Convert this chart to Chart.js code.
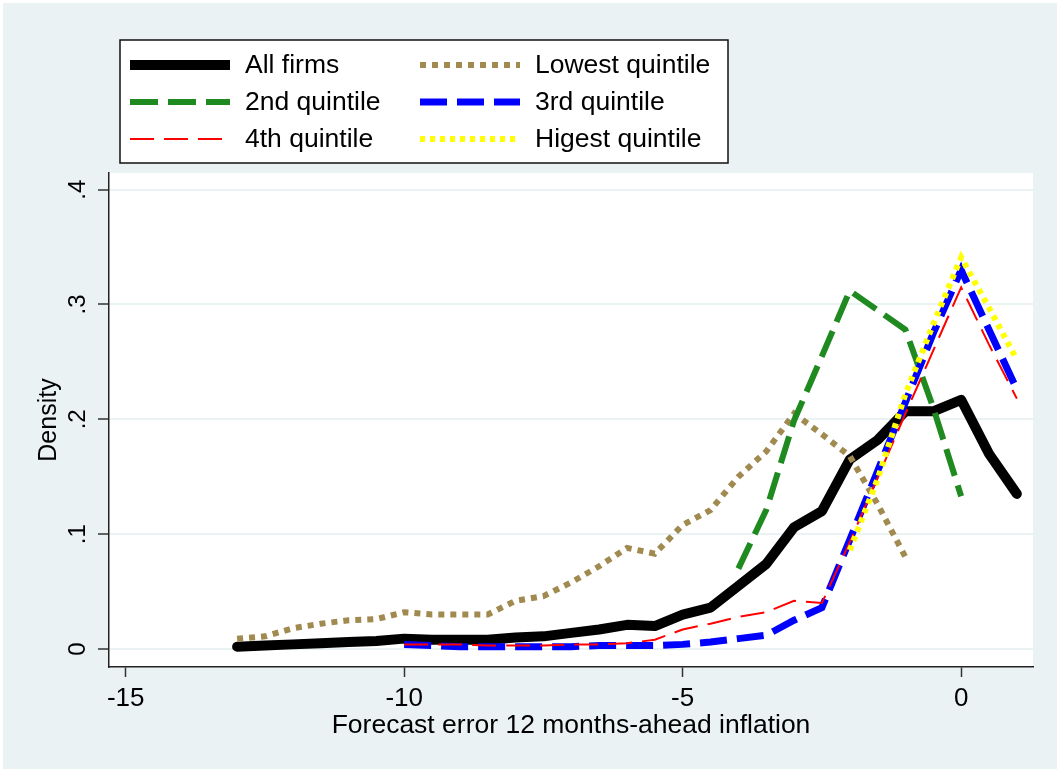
<!DOCTYPE html>
<html lang="en">
<head>
<meta charset="UTF-8">
<title>Forecast error density by quintile</title>
<script src="https://cdn.jsdelivr.net/npm/chart.js"></script>
<style>
  html, body { margin: 0; padding: 0; background: #ffffff; }
</style>
</head>
<body>
<canvas id="densityChart" width="1060" height="772"></canvas>
<script>
// forecast error bins (x values shared by every series)
const bins = [-13, -12.5, -12, -11.5, -11, -10.5, -10, -9.5, -9, -8.5, -8, -7.5, -7, -6.5, -6,
              -5.5, -5, -4.5, -4, -3.5, -3, -2.5, -2, -1.5, -1, -0.5, 0, 0.5, 1];

// densities, null = no point in that bin
const allFirms = [0.002, 0.003, 0.004, 0.005, 0.006, 0.007, 0.009, 0.008, 0.008, 0.008, 0.010, 0.011, 0.014, 0.017, 0.021,
                  0.020, 0.030, 0.036, 0.055, 0.074, 0.106, 0.120, 0.165, 0.182, 0.207, 0.207, 0.217, 0.170, 0.135];
const lowestQ  = [0.009, 0.011, 0.018, 0.022, 0.025, 0.026, 0.032, 0.030, 0.030, 0.030, 0.042, 0.046, 0.058, 0.072, 0.088,
                  0.083, 0.108, 0.121, 0.150, 0.172, 0.205, 0.187, 0.168, 0.126, 0.080, null, null, null, null];
const secondQ  = [null, null, null, null, null, null, null, null, null, null, null, null, null, null, null,
                  null, null, null, 0.070, 0.121, 0.199, 0.255, 0.312, 0.295, 0.278, 0.210, 0.133, null, null];
const thirdQ   = [null, null, null, null, null, null, 0.004, 0.003, 0.002, 0.002, 0.002, 0.002, 0.002, 0.003, 0.003,
                  0.003, 0.004, 0.006, 0.009, 0.012, 0.025, 0.036, 0.095, 0.155, 0.215, 0.275, 0.330, 0.278, 0.226];
const fourthQ  = [null, null, null, null, null, null, 0.004, 0.004, 0.004, 0.003, 0.003, 0.003, 0.004, 0.004, 0.005,
                  0.008, 0.017, 0.022, 0.028, 0.032, 0.042, 0.040, 0.093, 0.149, 0.205, 0.260, 0.315, 0.265, 0.218];
const highestQ = [null, null, null, null, null, null, null, null, null, null, null, null, null, null, null,
                  null, null, null, null, null, null, null, 0.086, 0.148, 0.222, 0.283, 0.341, 0.297, 0.252];

const xTicks = [-15, -10, -5, 0];
const xTickLabels = ['-15', '-10', '-5', '0'];
const yTicks = [0, 0.1, 0.2, 0.3, 0.4];
const yTickLabels = ['0', '.1', '.2', '.3', '.4'];

function toPoints(values) {
    const pts = [];
    values.forEach((v, i) => { if (v !== null) pts.push({x: bins[i], y: v}); });
    return pts;
}

const FONT = '"Liberation Sans", Arial, Helvetica, sans-serif';
const BG = '#eaf2f3';

const datasets = [
    {label: 'All firms', data: toPoints(allFirms), borderColor: '#000000', borderWidth: 10,
     borderCapStyle: 'round', borderJoinStyle: 'round', order: 6},
    {label: 'Lowest quintile', data: toPoints(lowestQ), borderColor: '#a08a4f', borderWidth: 6,
     borderDash: [6, 6], order: 5},
    {label: '2nd quintile', data: toPoints(secondQ), borderColor: '#1f8a1f', borderWidth: 6,
     borderDash: [28, 10], order: 4},
    {label: '3rd quintile', data: toPoints(thirdQ), borderColor: '#0000ff', borderWidth: 7,
     borderDash: [27, 10], order: 3},
    {label: '4th quintile', data: toPoints(fourthQ), borderColor: '#ff0000', borderWidth: 2,
     borderDash: [24, 10], order: 2},
    {label: 'Higest quintile', data: toPoints(highestQ), borderColor: '#ffff00', borderWidth: 6,
     borderDash: [5, 5], order: 1}
];
datasets.forEach(d => { d.fill = false; d.pointRadius = 0; d.tension = 0; d.showLine = true; });

// legend laid out in two columns like the original
const legendRows = [[0, 1], [2, 3], [4, 5]];

const backgroundPlugin = {
    id: 'stataBackground',
    beforeDraw(chart) {
        const {ctx, width, height, chartArea} = chart;
        ctx.save();
        ctx.fillStyle = '#ffffff';
        ctx.fillRect(0, 0, width, height);
        ctx.fillStyle = BG;
        ctx.fillRect(3, 3, width - 6, height - 6);
        ctx.fillStyle = '#ffffff';
        ctx.fillRect(chartArea.left, chartArea.top, chartArea.right - chartArea.left, chartArea.bottom - chartArea.top);
        ctx.restore();
    }
};

const boxLegendPlugin = {
    id: 'boxLegend',
    afterDraw(chart) {
        const ctx = chart.ctx;
        ctx.save();
        ctx.fillStyle = '#ffffff';
        ctx.fillRect(120, 40, 608, 123);
        ctx.strokeStyle = '#111111';
        ctx.lineWidth = 1.5;
        ctx.strokeRect(120, 40, 608, 123);
        legendRows.forEach((row, r) => {
            row.forEach((idx, c) => {
                const ds = chart.data.datasets[idx];
                const y = 65 + r * 37;
                const x0 = c === 0 ? 130 : 420;
                ctx.beginPath();
                ctx.setLineDash(ds.borderDash || []);
                ctx.lineCap = 'butt';
                ctx.lineWidth = ds.borderWidth;
                ctx.strokeStyle = ds.borderColor;
                ctx.moveTo(x0, y);
                ctx.lineTo(x0 + 100, y);
                ctx.stroke();
                ctx.setLineDash([]);
                ctx.fillStyle = '#000000';
                ctx.font = '26.5px ' + FONT;
                ctx.textBaseline = 'middle';
                ctx.textAlign = 'left';
                ctx.fillText(ds.label, x0 + 115, y + 1);
            });
        });
        ctx.restore();
    }
};

new Chart(document.getElementById('densityChart').getContext('2d'), {
    type: 'line',
    data: {datasets: datasets},
    options: {
        responsive: false,
        animation: false,
        parsing: false,
        layout: {padding: {top: 173, right: 27, left: 0, bottom: 0}},
        plugins: {legend: {display: false}, tooltip: {enabled: false}},
        scales: {
            x: {
                type: 'linear',
                min: -15.3,
                max: 1.29,
                afterFit: s => { s.height = 105; },
                afterBuildTicks: s => { s.ticks = xTicks.map(v => ({value: v})); },
                border: {display: true, color: '#222222', width: 1.5},
                grid: {display: true, drawOnChartArea: false, drawTicks: true, tickLength: 10,
                       tickColor: '#333333', tickWidth: 1.5},
                ticks: {
                    color: '#000000', padding: 6, maxRotation: 0,
                    font: {family: FONT, size: 26},
                    callback: v => xTickLabels[xTicks.indexOf(v)]
                },
                title: {display: true, text: 'Forecast error 12 months-ahead inflation', color: '#000000',
                        font: {family: FONT, size: 26.5}, padding: {top: 0, bottom: 30}}
            },
            y: {
                type: 'linear',
                min: -0.0157,
                max: 0.4145,
                afterFit: s => { s.width = 109; },
                afterBuildTicks: s => { s.ticks = yTicks.map(v => ({value: v})); },
                border: {display: true, color: '#222222', width: 1.5},
                grid: {display: true, color: BG, lineWidth: 2, drawTicks: true, tickLength: 11,
                       tickColor: '#333333', tickWidth: 1.5},
                ticks: {
                    color: '#000000', padding: 10, minRotation: 90, maxRotation: 90, crossAlign: 'center',
                    font: {family: FONT, size: 24},
                    callback: v => yTickLabels[yTicks.indexOf(v)]
                },
                title: {display: true, text: 'Density', color: '#000000',
                        font: {family: FONT, size: 25}, padding: {top: 34, bottom: 0}}
            }
        }
    },
    plugins: [backgroundPlugin, boxLegendPlugin]
});
</script>
</body>
</html>
